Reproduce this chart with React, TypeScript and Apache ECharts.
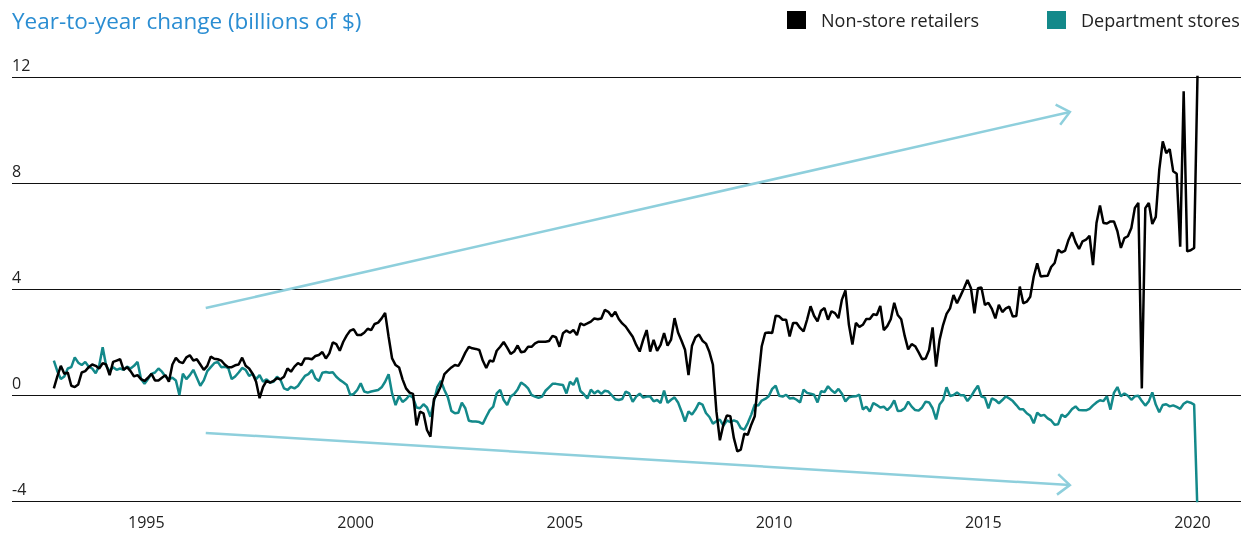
import React, { useEffect, useRef } from "react";
import * as echarts from "echarts";

// Monthly year-to-year change (billions of $), first point at START_YEAR
const START_YEAR = 1992.79;

const nonStoreRetailers: number[] = [
  0.25, 0.7, 1.1, 0.8, 0.85, 0.35, 0.3, 0.4, 0.85, 0.9,
  1.05, 1.15, 1.1, 1.0, 1.2, 1.15, 0.75, 1.25, 1.3, 1.35,
  0.95, 1.05, 0.9, 0.7, 0.75, 0.6, 0.53, 0.65, 0.8, 0.55,
  0.55, 0.65, 0.75, 0.5, 1.15, 1.4, 1.25, 1.2, 1.42, 1.5,
  1.3, 1.35, 1.15, 0.95, 1.1, 1.45, 1.37, 1.35, 1.3, 1.15,
  1.05, 1.05, 1.12, 1.15, 1.41, 1.1, 1.0, 0.8, 0.5, -0.12,
  0.31, 0.53, 0.47, 0.53, 0.63, 0.59, 0.69, 1.0, 0.88, 1.07,
  1.2, 1.13, 1.38, 1.38, 1.35, 1.47, 1.51, 1.62, 1.38, 1.57,
  1.99, 1.92, 1.67, 2.01, 2.25, 2.43, 2.48, 2.26, 2.26, 2.35,
  2.5, 2.45, 2.68, 2.73, 2.89, 3.1, 2.2, 1.38, 1.13, 1.04,
  0.59, 0.25, 0.09, 0.04, -1.15, -0.63, -0.69, -1.32, -1.57, -0.16,
  0.06, 0.34, 0.79, 0.92, 1.04, 1.13, 1.1, 1.32, 1.6, 1.82,
  1.76, 1.74, 1.7, 1.3, 1.02, 1.3, 1.26, 1.67, 1.82, 2.0,
  1.79, 1.55, 1.64, 1.87, 1.61, 1.64, 1.82, 1.82, 1.95, 2.01,
  2.01, 2.01, 2.04, 2.23, 2.18, 1.82, 2.33, 2.43, 2.35, 2.45,
  2.26, 2.7, 2.64, 2.7, 2.77, 2.89, 2.86, 2.89, 3.21, 3.14,
  2.96, 3.14, 2.87, 2.7, 2.58, 2.39, 2.2, 1.89, 1.64, 2.08,
  2.45, 1.64, 2.08, 1.67, 1.89, 2.34, 1.86, 2.09, 2.9, 2.36,
  2.05, 1.71, 0.75, 1.86, 2.18, 2.28, 2.05, 1.94, 1.62, 1.14,
  -0.62, -1.71, -1.12, -0.77, -0.8, -1.62, -2.13, -2.06, -1.46, -1.5,
  -1.12, -0.8, 0.58, 1.84, 2.34, 2.36, 2.34, 2.99, 2.97, 2.84,
  2.84, 2.21, 2.72, 2.72, 2.53, 2.4, 2.84, 3.35, 2.99, 2.78,
  3.18, 3.28, 2.84, 3.16, 3.09, 2.9, 3.6, 3.95, 2.65, 1.9,
  2.72, 2.57, 2.65, 2.87, 2.87, 3.05, 3.02, 3.36, 2.45, 2.6,
  2.86, 3.48, 3.02, 2.86, 2.23, 1.72, 1.92, 1.84, 1.61, 1.35,
  1.38, 1.7, 2.55, 1.07, 2.08, 2.64, 3.06, 3.27, 3.77, 3.46,
  3.74, 4.03, 4.34, 4.03, 3.08, 4.03, 4.06, 3.4, 3.48, 3.25,
  2.89, 3.4, 3.13, 3.27, 3.33, 2.96, 2.98, 4.09, 3.46, 3.52,
  3.71, 4.47, 4.97, 4.47, 4.49, 4.5, 4.83, 4.98, 5.48, 5.38,
  5.45, 5.86, 6.14, 5.76, 5.51, 5.8, 5.86, 6.01, 4.9, 6.49,
  7.15, 6.49, 6.47, 6.55, 6.55, 6.18, 5.55, 5.92, 5.99, 6.3,
  7.06, 7.25, 0.25, 7.05, 7.25, 6.45, 6.72, 8.5, 9.57, 9.13,
  9.28, 8.44, 8.35, 5.6, 11.46, 5.42, 5.46, 5.55, 12.3,
];

const departmentStores: number[] = [
  1.3, 0.9, 0.6, 0.7, 1.0, 1.05, 1.42, 1.22, 1.13, 1.25,
  1.07, 1.0, 0.82, 1.1, 1.8, 1.1, 0.9, 1.05, 0.95, 1.0,
  0.95, 1.07, 1.0, 1.1, 1.25, 0.6, 0.42, 0.6, 0.8, 0.85,
  1.0, 0.88, 0.7, 0.6, 0.65, 0.55, 0.0, 0.8, 0.6, 0.75,
  0.95, 0.65, 0.35, 0.55, 0.9, 1.05, 1.2, 1.25, 1.05, 1.07,
  1.02, 0.6, 0.7, 0.85, 1.02, 0.95, 0.72, 0.8, 0.6, 0.75,
  0.5, 0.59, 0.47, 0.5, 0.69, 0.57, 0.25, 0.19, 0.31, 0.25,
  0.34, 0.54, 0.72, 0.79, 0.94, 0.63, 0.53, 0.84, 0.87, 0.84,
  0.86, 0.69, 0.57, 0.48, 0.38, 0.0, 0.04, 0.19, 0.44, 0.13,
  0.09, 0.13, 0.16, 0.19, 0.29, 0.5, 0.78, 0.06, -0.38, -0.04,
  -0.26, -0.16, -0.01, -0.1, -0.47, -0.5, -0.35, -0.47, -0.82, -0.25,
  0.31, 0.53, 0.19, -0.09, -0.6, -0.69, -0.67, -0.29, -0.5, -0.97,
  -1.0, -1.0, -1.02, -1.09, -0.82, -0.57, -0.44, 0.06, 0.19, -0.19,
  -0.38, -0.06, 0.04, 0.21, 0.47, 0.38, 0.25, 0.0, -0.06, -0.11,
  -0.06, 0.16, 0.29, 0.42, 0.42, 0.4, 0.38, 0.06, 0.5, 0.38,
  0.65, 0.15, 0.03, -0.13, 0.2, 0.06, 0.16, 0.04, 0.16, 0.13,
  -0.01, -0.16, -0.19, -0.15, 0.13, 0.06, -0.26, -0.06, 0.05, -0.1,
  -0.06, -0.06, -0.24, -0.19, -0.3, 0.17, -0.3, -0.18, -0.09, -0.28,
  -0.62, -1.0, -0.62, -0.74, -0.55, -0.3, -0.36, -0.68, -0.83, -1.08,
  -0.99, -0.93, -1.16, -0.96, -1.02, -0.96, -1.01, -1.25, -1.31, -1.06,
  -0.74, -0.36, -0.4, -0.21, -0.15, -0.05, 0.23, 0.35, -0.03, -0.06,
  0.01, -0.13, -0.11, -0.18, -0.28, 0.2, 0.08, 0.05, 0.01, -0.28,
  0.14, 0.11, 0.33, 0.18, 0.08, 0.23, 0.05, -0.24, -0.09, -0.06,
  -0.05, 0.01, -0.55, -0.44, -0.62, -0.3, -0.38, -0.47, -0.44, -0.57,
  -0.44, -0.2, -0.6, -0.59, -0.5, -0.25, -0.44, -0.57, -0.59, -0.47,
  -0.25, -0.28, -0.5, -0.92, -0.36, -0.19, 0.29, -0.04, 0.0, 0.09,
  -0.01, -0.01, -0.23, -0.06, 0.16, 0.35, -0.06, -0.1, -0.5, -0.13,
  -0.19, -0.31, -0.19, -0.05, -0.13, -0.23, -0.38, -0.54, -0.54, -0.69,
  -0.78, -1.07, -0.67, -0.78, -0.75, -0.88, -0.96, -1.12, -1.1, -0.74,
  -0.83, -0.7, -0.53, -0.43, -0.57, -0.58, -0.58, -0.52, -0.39, -0.28,
  -0.2, -0.23, -0.05, -0.55, 0.08, 0.3, -0.05, 0.06, -0.03, -0.18,
  -0.05, -0.03, -0.23, -0.4, -0.24, 0.1, -0.36, -0.65, -0.38, -0.35,
  -0.43, -0.39, -0.45, -0.52, -0.33, -0.25, -0.29, -0.36, -4.6,
];

const yearTicks: number[] = [1995, 2000, 2005, 2010, 2015, 2020];
const yTicks: number[] = [-4, 0, 4, 8, 12];

// Trend arrows (start -> end), in data coordinates [year, billions]
const arrowUp: number[][] = [[1996.42, 3.28], [2017.07, 10.68]];
const arrowDown: number[][] = [[1996.42, -1.43], [2017.07, -3.4]];

const FONT = "'Open Sans', 'DejaVu Sans', sans-serif";
const BLACK = "#000000";
const TEAL = "#13898a";
const ARROW = "#8ecfdc";
const TITLE_BLUE = "#2a8dd2";

function toPairs(values: number[]) {
  return values.map((v, i) => [START_YEAR + i / 12, v]);
}

export default function App() {
  const ref = useRef<HTMLDivElement>(null);

  useEffect(() => {
    if (!ref.current) return;
    const chart = echarts.init(ref.current, null, { renderer: "svg" });

    chart.setOption({
      animation: false,
      grid: { left: 12, right: 0, top: 77, bottom: 32, containLabel: false },
      xAxis: {
        type: "value",
        min: 1991.79,
        max: 2021.16,
        axisLine: { show: false },
        axisTick: { show: false },
        splitLine: { show: false },
        axisLabel: {
          customValues: yearTicks,
          formatter: (v: number) => String(Math.round(v)),
          fontFamily: FONT,
          fontSize: 16,
          lineHeight: 16,
          color: "#222",
          margin: 13,
        },
      },
      yAxis: {
        type: "value",
        min: yTicks[0],
        max: yTicks[yTicks.length - 1],
        interval: 4,
        axisLine: { show: false },
        axisTick: { show: false },
        splitLine: { show: true, lineStyle: { color: "#111", width: 1 } },
        axisLabel: {
          inside: true,
          margin: 0,
          verticalAlign: "bottom",
          padding: [0, 0, 4, 0],
          fontFamily: FONT,
          fontSize: 16,
          color: "#222",
        },
      },
      series: [
        {
          name: "Non-store retailers",
          type: "line",
          data: toPairs(nonStoreRetailers),
          showSymbol: false,
          clip: true,
          lineStyle: { color: BLACK, width: 2.5 },
          itemStyle: { color: BLACK },
          z: 3,
        },
        {
          name: "Department stores",
          type: "line",
          data: toPairs(departmentStores),
          showSymbol: false,
          clip: true,
          lineStyle: { color: TEAL, width: 2.5 },
          itemStyle: { color: TEAL },
          z: 2,
        },
      ],
    });

    const arrowGraphics = (pts: number[][]) => {
      const a = chart.convertToPixel({ gridIndex: 0 }, pts[0]) as number[];
      const b = chart.convertToPixel({ gridIndex: 0 }, pts[1]) as number[];
      const ang = Math.atan2(a[1] - b[1], a[0] - b[0]);
      const len = 16;
      const spread = (40 * Math.PI) / 180;
      const p1 = [b[0] + len * Math.cos(ang + spread), b[1] + len * Math.sin(ang + spread)];
      const p2 = [b[0] + len * Math.cos(ang - spread), b[1] + len * Math.sin(ang - spread)];
      return [
        {
          type: "line",
          shape: { x1: a[0], y1: a[1], x2: b[0], y2: b[1] },
          style: { stroke: ARROW, lineWidth: 2.5 },
          z: 1,
        },
        {
          type: "polyline",
          shape: { points: [p1, b, p2] },
          style: { stroke: ARROW, lineWidth: 2.5, fill: "none" },
          z: 1,
        },
      ];
    };

    chart.setOption({
      graphic: [
        ...arrowGraphics(arrowUp),
        ...arrowGraphics(arrowDown),
        {
          type: "text",
          x: 12,
          y: 20,
          style: {
            text: "Year-to-year change (billions of $)",
            fill: TITLE_BLUE,
            font: `22.5px ${FONT}`,
            verticalAlign: "middle",
          },
        },
        {
          type: "rect",
          shape: { x: 787, y: 11, width: 19, height: 18 },
          style: { fill: BLACK },
        },
        {
          type: "text",
          x: 821,
          y: 20,
          style: {
            text: "Non-store retailers",
            fill: "#222",
            font: `18px ${FONT}`,
            verticalAlign: "middle",
          },
        },
        {
          type: "rect",
          shape: { x: 1047, y: 11, width: 19, height: 18 },
          style: { fill: TEAL },
        },
        {
          type: "text",
          x: 1081,
          y: 20,
          style: {
            text: "Department stores",
            fill: "#222",
            font: `18px ${FONT}`,
            verticalAlign: "middle",
          },
        },
      ],
    });

    return () => chart.dispose();
  }, []);

  return (
    <div
      ref={ref}
      style={{ position: "fixed", left: 0, top: 0, width: 1241, height: 533 }}
    />
  );
}
